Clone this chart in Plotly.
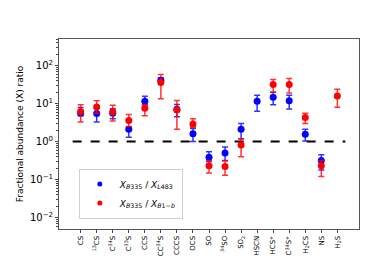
import plotly.graph_objects as go

categories = ["CS", "<sup>13</sup>CS", "C<sup>34</sup>S", "C<sup>33</sup>S", "CCS", "CC<sup>34</sup>S",
              "CCCS", "OCS", "SO", "<sup>34</sup>SO", "SO<sub>2</sub>", "HSCN", "HCS<sup>+</sup>",
              "C<sup>34</sup>S<sup>+</sup>", "H<sub>2</sub>CS", "NS", "H<sub>2</sub>S"]

# X_B335 / X_L483
l483_val = [5.6, 5.5, 5.6, 2.1, 11.6, 41, 7.1, 1.6, 0.39, 0.50, 2.1, 11.6, 14.6, 11.8, 1.57, 0.32, None]
l483_hi = [7.9, 7.5, 7.3, 2.4, 15.5, 48, 9.5, 2.2, 0.54, 0.72, 3.0, 16.7, 20, 16.7, 2.1, 0.45, None]
l483_lo = [4.8, 3.3, 4.0, 1.3, 9.2, 34, 4.5, 1.0, 0.30, 0.32, 1.19, 6.3, 9.3, 7.2, 1.04, 0.18, None]

# X_B335 / X_B1-b
b1b_val = [6.2, 8.2, 6.1, 3.6, 7.5, 36, 6.8, 2.9, 0.23, 0.22, 0.81, None, 32, 32, 4.3, 0.23, 15.8]
b1b_hi = [9.3, 11.8, 9.0, 5.2, 9.3, 58, 12.0, 4.0, 0.32, 0.31, 1.19, None, 43, 46, 5.6, 0.32, 24]
b1b_lo = [3.3, 5.6, 3.5, 2.5, 4.8, 13.5, 2.1, 2.4, 0.15, 0.13, 0.40, None, 20, 19, 3.0, 0.12, 8.0]

ytick_vals = [0.01, 0.1, 1, 10, 100]
ytick_text = ["10<sup>\u22122</sup>", "10<sup>\u22121</sup>", "10<sup>0</sup>", "10<sup>1</sup>", "10<sup>2</sup>"]

name_l483 = "<i>X</i><sub><i>B</i>335</sub> / <i>X</i><sub><i>L</i>483</sub>"
name_b1b = "<i>X</i><sub><i>B</i>335</sub> / <i>X</i><sub><i>B</i>1\u2212<i>b</i></sub>"

idx = list(range(len(categories)))


def errs(val, hi, lo):
    plus = [None if v is None else h - v for v, h in zip(val, hi)]
    minus = [None if v is None else v - l for v, l in zip(val, lo)]
    return plus, minus


fig = go.Figure()

# reference line at ratio 1
fig.add_trace(go.Scatter(x=[idx[0] - 0.5, idx[-1] + 0.5], y=[1, 1], mode="lines",
                         line=dict(color="black", width=2, dash="dash"), showlegend=False,
                         hoverinfo="skip"))

p, m = errs(l483_val, l483_hi, l483_lo)
fig.add_trace(go.Scatter(x=idx, y=l483_val, mode="markers", name=name_l483, showlegend=False,
                         marker=dict(color="blue", size=7),
                         error_y=dict(type="data", symmetric=False, array=p, arrayminus=m,
                                      color="rgba(0,0,255,0.8)", thickness=1.5, width=3)))
p, m = errs(b1b_val, b1b_hi, b1b_lo)
fig.add_trace(go.Scatter(x=idx, y=b1b_val, mode="markers", name=name_b1b, showlegend=False,
                         marker=dict(color="red", size=7),
                         error_y=dict(type="data", symmetric=False, array=p, arrayminus=m,
                                      color="rgba(255,0,0,0.8)", thickness=1.5, width=3)))

# legend entries (smaller symbols as in the reference)
fig.add_trace(go.Scatter(x=[None], y=[None], mode="markers", name=name_l483,
                         marker=dict(color="blue", size=5)))
fig.add_trace(go.Scatter(x=[None], y=[None], mode="markers", name=name_b1b,
                         marker=dict(color="red", size=5)))

fig.update_layout(
    width=390, height=260,
    margin=dict(l=49, r=39, t=31, b=33),
    plot_bgcolor="white", paper_bgcolor="white",
    font=dict(family="DejaVu Sans", color="black"),
    legend=dict(x=0.066, y=0.055, xanchor="left", yanchor="bottom",
                bgcolor="white", bordercolor="#d0d0d0", borderwidth=1,
                font=dict(size=9), itemwidth=30, tracegroupgap=0),
)
fig.update_xaxes(range=[-1.35, 17.35], tickmode="array", tickvals=idx, ticktext=categories,
                 tickangle=-90, tickfont=dict(size=7), ticks="outside", ticklen=3,
                 showgrid=False, zeroline=False, showline=True, linecolor="#555", linewidth=1,
                 mirror=True)
fig.update_yaxes(type="log", range=[-2.3, 2.7], tickmode="array", tickvals=ytick_vals,
                 ticktext=ytick_text, tickfont=dict(size=10), ticks="outside", ticklen=3,
                 minor=dict(ticks="outside", ticklen=2, dtick="D1", showgrid=False),
                 showgrid=False, zeroline=False, showline=True, linecolor="#555", linewidth=1,
                 mirror=True,
                 title=dict(text="Fractional abundance (X) ratio", font=dict(size=9), standoff=4))

fig.write_html("out.html")
